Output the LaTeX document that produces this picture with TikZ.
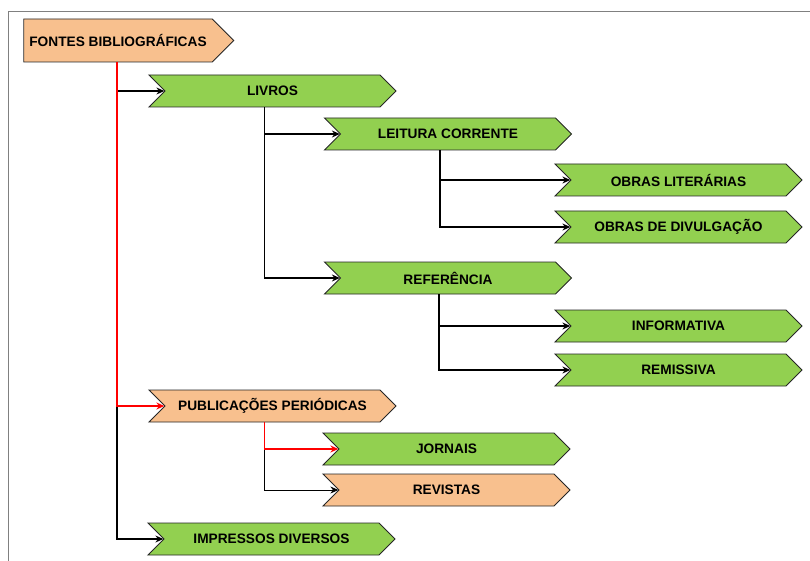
\documentclass[tikz,border=0pt]{standalone}
\usepackage{fontspec}
\setmainfont{Liberation Sans}
\usetikzlibrary{arrows.meta,shapes.symbols}

\definecolor{leafgreen}{HTML}{92D050}
\definecolor{peach}{HTML}{F8C08E}

\begin{document}
\begin{tikzpicture}[
  x=1pt, y=-1pt,
  chev/.style={shape=signal, signal to=east, signal from=west, signal pointer angle=90,
    draw=black!85, line width=0.9pt, minimum width=247pt, minimum height=32pt,
    inner sep=0pt, font=\fontsize{13.7}{16}\selectfont\bfseries},
  chevgreen/.style={chev, fill=leafgreen},
  chevpeach/.style={chev, fill=peach},
  link/.style={-{Stealth[length=8pt,width=7pt]}, line width=1.2pt, black},
  thinlink/.style={-{Stealth[length=8pt,width=7pt]}, line width=0.8pt, black},
  redlink/.style={-{Stealth[length=8pt,width=7pt]}, line width=1.3pt, red}
]
\useasboundingbox (0,0) rectangle (810,561);

% ---------- frame ----------
\draw[gray, line width=1pt] (8,561) -- (8,12) -- (810,12);

% ---------- nodes ----------
\node[chevpeach, signal from=nowhere, minimum width=210pt, minimum height=43pt] (fontes) at (118,40.5) {FONTES BIBLIOGRÁFICAS};
\node[chevgreen] (livros) at (272.5,91) {LIVROS};
\node[chevgreen] (leitura) at (448,134) {LEITURA CORRENTE};
\node[chevgreen] (obraslit) at (678.5,180) {OBRAS LITERÁRIAS};
\node[chevgreen] (obrasdiv) at (678.5,227) {OBRAS DE DIVULGAÇÃO};
\node[chevgreen] (referencia) at (448,278) {REFERÊNCIA};
\node[chevgreen] (informativa) at (678.5,326) {INFORMATIVA};
\node[chevgreen] (remissiva) at (678.5,370) {REMISSIVA};
\node[chevpeach] (periodicas) at (272.5,406) {PUBLICAÇÕES PERIÓDICAS};
\node[chevgreen] (jornais) at (446.5,449) {JORNAIS};
\node[chevpeach] (revistas) at (446.5,490) {REVISTAS};
\node[chevgreen] (impressos) at (271.5,539) {IMPRESSOS DIVERSOS};

% ---------- connectors ----------
\draw[link] ([xshift=-1pt]fontes.south |- livros.west) -- (livros.west);
\draw[link] ([xshift=-1pt]fontes.south |- periodicas.west) |- (impressos.west);
\draw[redlink] ([xshift=-1pt]fontes.south) |- (periodicas.west);

\draw[link] ([xshift=-8pt]livros.south) |- (leitura.west);
\draw[link] ([xshift=-8pt]livros.south) |- (referencia.west);

\draw[link] ([xshift=-8pt]leitura.south) |- (obraslit.west);
\draw[link] ([xshift=-8pt]leitura.south) |- (obrasdiv.west);

\draw[link] ([xshift=-9pt]referencia.south) |- (informativa.west);
\draw[link] ([xshift=-9pt]referencia.south) |- (remissiva.west);

\draw[thinlink] ([xshift=-8pt]periodicas.south |- jornais.west) |- (revistas.west);
\draw[redlink] ([xshift=-8pt]periodicas.south) |- (jornais.west);

\end{tikzpicture}
\end{document}
